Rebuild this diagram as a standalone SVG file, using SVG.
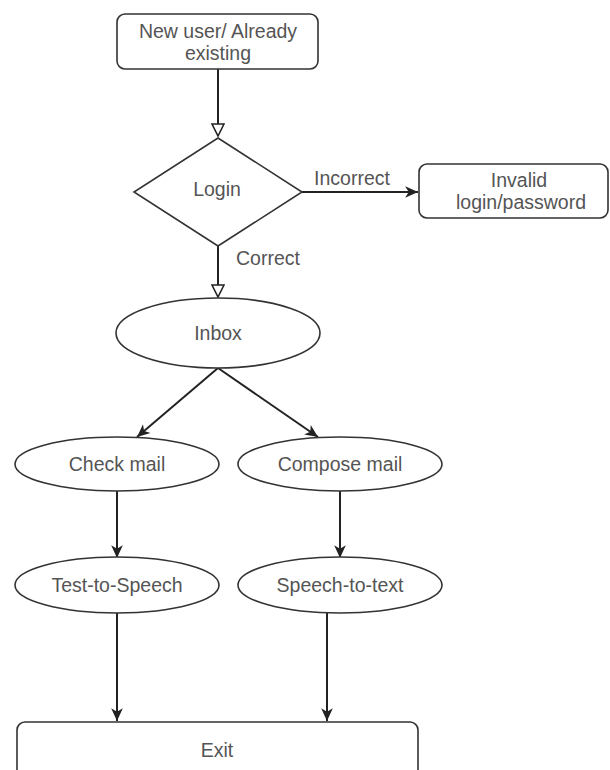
<svg xmlns="http://www.w3.org/2000/svg" width="610" height="770" viewBox="0 0 610 770">
<style>
.shape{fill:#fff;stroke:#333;stroke-width:1.6}
.lbl{font-family:"Liberation Sans",Arial,sans-serif;font-size:19.5px;fill:#555;text-anchor:middle}
.edge{fill:none;stroke:#222;stroke-width:2}
</style>
<defs>
<marker id="open" viewBox="0 0 14 14" refX="13" refY="7" markerWidth="14" markerHeight="14" markerUnits="userSpaceOnUse" orient="auto">
<path d="M1,1 L13,7 L1,13 Z" fill="#fff" stroke="#222" stroke-width="1.6"/>
</marker>
<marker id="fill" viewBox="0 0 12 12" refX="11" refY="6" markerWidth="14" markerHeight="14" markerUnits="userSpaceOnUse" orient="auto">
<path d="M0,1 L11,6 L0,11 L3,6 Z" fill="#222"/>
</marker>
</defs>
<rect width="610" height="770" fill="#fff"/>
<g id="connectors">
<path class="edge" d="M218,69 V136" marker-end="url(#open)"/>
<path class="edge" d="M302,192 H418" marker-end="url(#fill)"/>
<path class="edge" d="M218,246 V297" marker-end="url(#open)"/>
<path class="edge" d="M218,368 L137,437" marker-end="url(#fill)"/>
<path class="edge" d="M218,368 L318,437" marker-end="url(#fill)"/>
<path class="edge" d="M117,491 V558" marker-end="url(#fill)"/>
<path class="edge" d="M340,491 V558" marker-end="url(#fill)"/>
<path class="edge" d="M117,613 V721" marker-end="url(#fill)"/>
<path class="edge" d="M327,613 V721" marker-end="url(#fill)"/>
<text class="lbl" x="352" y="185">Incorrect</text>
<text class="lbl" x="268" y="265">Correct</text>
</g>
<g id="start">
<rect class="shape" x="117" y="14" width="201" height="55" rx="8"/>
<text class="lbl" x="218" y="38">New user/ Already</text>
<text class="lbl" x="218" y="60">existing</text>
</g>
<g id="login">
<polygon class="shape" points="218,138 302,192 218,246 134,192"/>
<text class="lbl" x="217" y="196">Login</text>
</g>
<g id="invalid">
<rect class="shape" x="419" y="164" width="189" height="54" rx="8"/>
<text class="lbl" x="519" y="187">Invalid</text>
<text class="lbl" x="521" y="209">login/password</text>
</g>
<g id="inbox">
<ellipse class="shape" cx="218" cy="333" rx="102" ry="35"/>
<text class="lbl" x="218" y="340">Inbox</text>
</g>
<g id="check">
<ellipse class="shape" cx="117" cy="464" rx="102" ry="27"/>
<text class="lbl" x="117" y="471">Check mail</text>
</g>
<g id="compose">
<ellipse class="shape" cx="340" cy="464" rx="102" ry="27"/>
<text class="lbl" x="340" y="471">Compose mail</text>
</g>
<g id="tts">
<ellipse class="shape" cx="117" cy="585" rx="102" ry="28"/>
<text class="lbl" x="117" y="592">Test-to-Speech</text>
</g>
<g id="stt">
<ellipse class="shape" cx="340" cy="585" rx="102" ry="28"/>
<text class="lbl" x="340" y="592">Speech-to-text</text>
</g>
<g id="exit">
<rect class="shape" x="17" y="722" width="401" height="80" rx="8"/>
<text class="lbl" x="217" y="757">Exit</text>
</g>
</svg>
